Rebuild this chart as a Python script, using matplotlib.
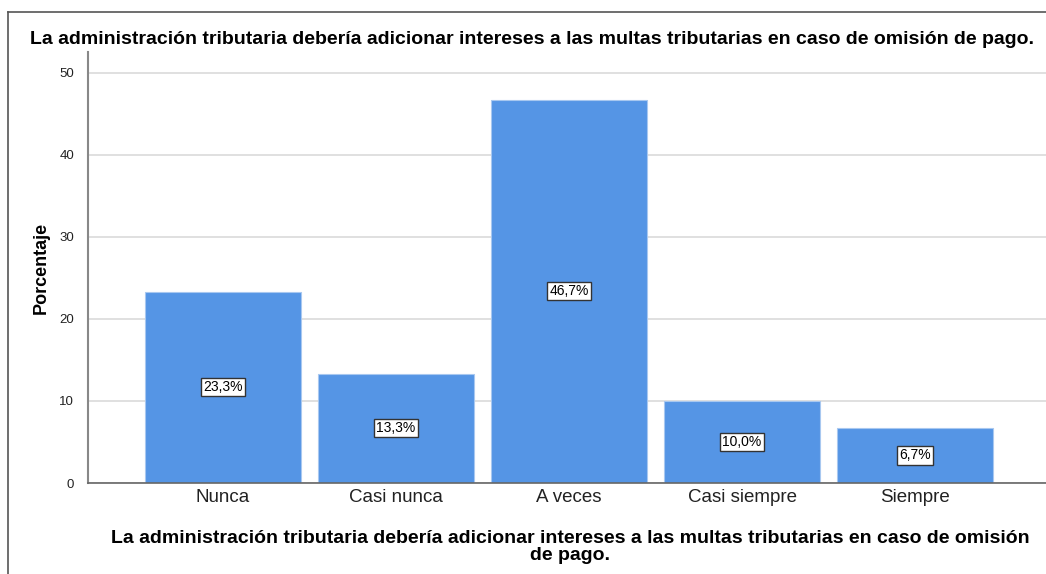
import numpy as np
import matplotlib.pyplot as plt
from matplotlib.lines import Line2D

categorias = ["Nunca", "Casi nunca", "A veces", "Casi siempre", "Siempre"]
porcentajes = [23.3, 13.3, 46.7, 10.0, 6.7]
etiquetas = ["23,3%", "13,3%", "46,7%", "10,0%", "6,7%"]
yticks = [0, 10, 20, 30, 40, 50]

titulo = "La administración tributaria debería adicionar intereses a las multas tributarias en caso de omisión de pago."
xlabel_txt = "La administración tributaria debería adicionar intereses a las multas tributarias en caso de omisión\nde pago."

plt.rcParams['font.family'] = ['Liberation Sans', 'DejaVu Sans']

W, H = 1046, 574
fig = plt.figure(figsize=(W / 100, H / 100), dpi=100)

# plot area in pixel coordinates: y-axis at x=88, baseline at y=483, top of axis ~52
ax = fig.add_axes([88 / W, (H - 483) / H, 1 - 88 / W, (483 - 52) / H])

x = np.arange(len(categorias))
ax.bar(x, porcentajes, width=0.9, color="#5595E5", edgecolor="#A8C8F0", linewidth=0.8, zorder=2)

for xi, v, lab in zip(x, porcentajes, etiquetas):
    ax.text(xi, v / 2, lab, ha="center", va="center", fontsize=10, color="black", zorder=4,
            bbox=dict(boxstyle="square,pad=0.15", facecolor="white", edgecolor="#333333", linewidth=1.0))

ax.set_xlim(-0.78, 4.757)
ax.set_ylim(0, 52.5)
ax.set_yticks(yticks)
ax.set_xticks(x)
ax.set_xticklabels(categorias, fontsize=13.5, color="#222222")
ax.tick_params(axis="y", length=0, labelsize=9.5, pad=10, labelcolor="#222222")
ax.tick_params(axis="x", length=0, pad=4)
ax.grid(axis="y", color="#DADADA", linewidth=1.2, zorder=0)
ax.set_axisbelow(True)

for s in ["top", "right"]:
    ax.spines[s].set_visible(False)
ax.spines["left"].set_color("#888888")
ax.spines["left"].set_linewidth(1.5)
ax.spines["bottom"].set_color("#666666")
ax.spines["bottom"].set_linewidth(1.2)

ax.set_ylabel("Porcentaje", fontsize=13, fontweight="bold", labelpad=7)

fig.text(532 / W, 1 - 40 / H, titulo, ha="center", va="center", fontsize=14, fontweight="bold")
fig.text(570 / W, 1 - 547 / H, xlabel_txt, ha="center", va="center", fontsize=14,
         fontweight="bold", linespacing=1.05)

# outer frame (left and top edges visible)
fig.add_artist(Line2D([8 / W, 8 / W], [0, 1 - 12 / H], transform=fig.transFigure, color="#555555", linewidth=1.2))
fig.add_artist(Line2D([8 / W, 1], [1 - 12 / H, 1 - 12 / H], transform=fig.transFigure, color="#555555", linewidth=1.2))

fig.savefig("out.png", dpi=100)
